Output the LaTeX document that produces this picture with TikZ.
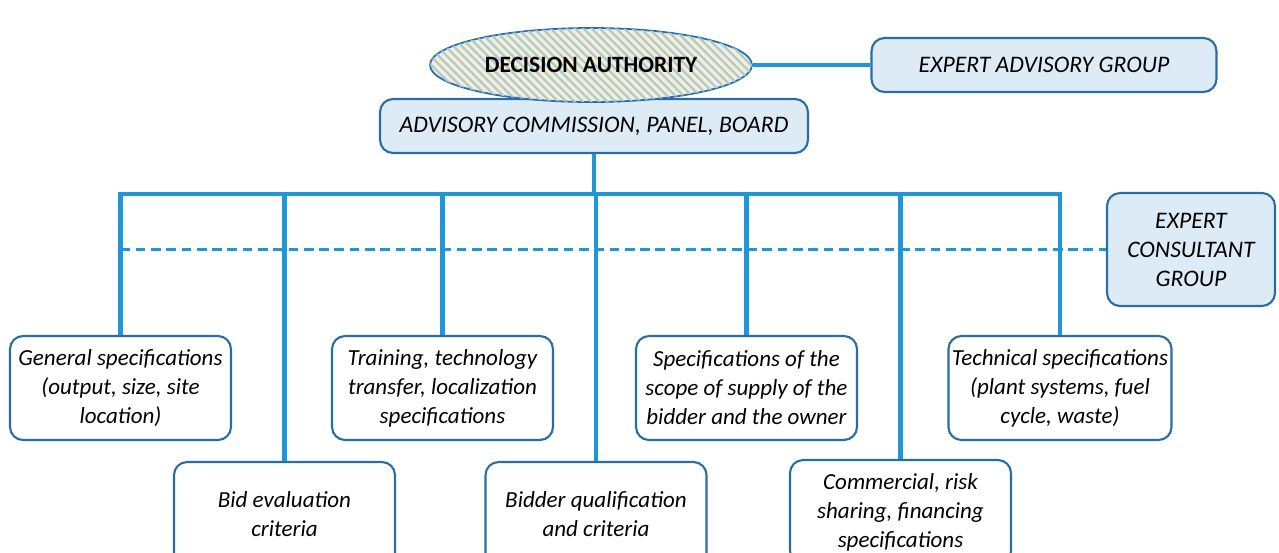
\documentclass[tikz,border=0pt]{standalone}
\usepackage{fontspec}
\setmainfont{Carlito}
\usetikzlibrary{shapes.geometric,patterns.meta,calc}
\definecolor{linkblue}{RGB}{30,150,215}
\definecolor{boxedge}{RGB}{40,110,165}
\definecolor{boxfill}{RGB}{221,235,247}
\definecolor{hatchbg}{RGB}{252,238,196}
\definecolor{hatchline}{RGB}{160,200,235}
\tikzset{%
  box/.style      = {shape=rectangle, rounded corners=0.26cm, draw=boxedge,%
                     line width=1.2pt, align=center, inner sep=2pt,%
                     font=\fontsize{13.5}{16.5}\selectfont\itshape},%
  head/.style     = {box, fill=boxfill, minimum height=1.08cm},%
  spec/.style     = {box, fill=white, minimum width=4.42cm, minimum height=2.08cm,%
                     font=\fontsize{13.1}{16.5}\selectfont\itshape},%
  authority/.style= {ellipse, draw=boxedge, line width=1pt, fill=hatchbg,%
                     postaction={pattern={Lines[angle=-45, distance=3.3pt, line width=1.2pt]},%
                                 pattern color=hatchline},%
                     minimum width=6.44cm, minimum height=1.48cm,%
                     font=\fontsize{13.3}{16}\selectfont\bfseries},%
  link/.style     = {draw=linkblue, line width=2.3pt},%
  dashlink/.style = {draw=linkblue, line width=1.4pt, dash pattern=on 5.5pt off 3.2pt}%
}
\begin{document}
\begin{tikzpicture}[x=0.02cm, y=-0.02cm]%
	\useasboundingbox (0,0) rectangle (1279,552);
	% top of the chart
	\node [head, minimum width=8.56cm] (acb) at (594,126) {ADVISORY COMMISSION, PANEL, BOARD};%
	\node [authority] (da) at (591,65) {DECISION AUTHORITY};%
	\node [head, minimum width=6.9cm] (eag) at (1044,65) {EXPERT ADVISORY GROUP};%
	\node [head, minimum width=3.36cm, minimum height=2.26cm] (ecg) at (1191,249.5)%
		{EXPERT\\CONSULTANT\\GROUP};%
	% specification boxes
	\node [spec] (gen) at (120.5,388) {General specifications\\(output, size, site\\location)};%
	\node [spec] (train) at (442.5,388) {Training, technology\\transfer, localization\\specifications};%
	\node [spec] (scope) at (746.5,388) {Specifications of the\\scope of supply of the\\bidder and the owner};%
	\node [spec] (tech) at (1060,388) {Technical specifications\\(plant systems, fuel\\cycle, waste)};%
	\node [spec] (bid) at (284.5,514) {Bid evaluation\\criteria};%
	\node [spec] (bidder) at (596,514) {Bidder qualification\\and criteria};%
	\node [spec] (comm) at (900.5,512) {Commercial, risk\\sharing, financing\\specifications};%
	% connectors
	\coordinate (bus) at (0,194);
	\draw [link] (da.east) -- (eag.west);
	\draw [link] (acb.south) -- (acb.south |- bus);
	\draw [link, line join=miter] (gen.north) -- (gen.north |- bus) -- (tech.north |- bus) -- (tech.north);
	\foreach \n in {bid,train,bidder,scope,comm}
		\draw [link] (\n.north) -- (\n.north |- bus);
	\draw [dashlink] (gen.north |- ecg.west) -- (ecg.west);
\end{tikzpicture}
\end{document}
